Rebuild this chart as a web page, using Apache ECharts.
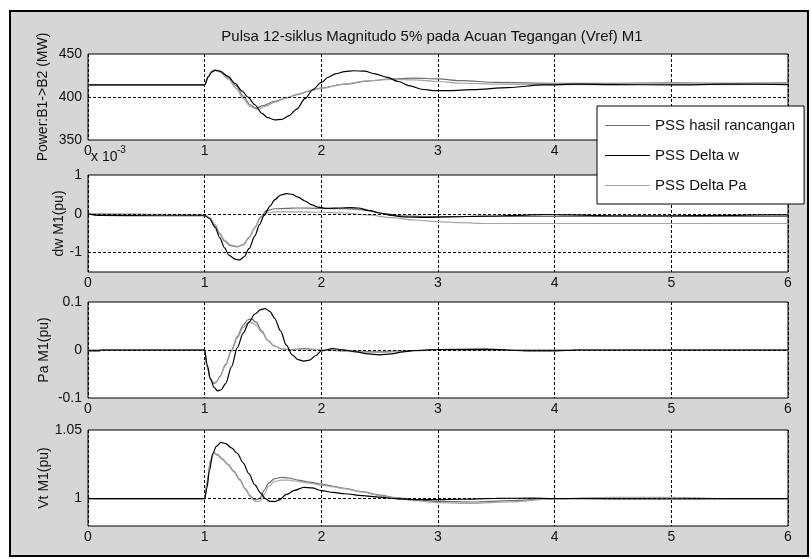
<!DOCTYPE html>
<html>
<head>
<meta charset="utf-8">
<script src="https://cdn.jsdelivr.net/npm/echarts@6/dist/echarts.min.js"></script>
<style>html,body{margin:0;padding:0;background:#fff}#c{width:812px;height:559px}</style>
</head>
<body>
<div id="c"></div>
<script>
// ---------- DATA ----------
const titleText = 'Pulsa 12-siklus Magnitudo 5% pada Acuan Tegangan (Vref) M1';
const seriesNames = ['PSS hasil rancangan', 'PSS Delta w', 'PSS Delta Pa'];
const xTicks = [0, 1, 2, 3, 4, 5, 6];
const yNames = ['Power:B1->B2 (MW)', 'dw M1(pu)', 'Pa M1(pu)', 'Vt M1(pu)'];

// Plot 1: Power B1->B2 (MW)
const powT_w = [0, 1.0, 1.03, 1.06, 1.09, 1.13, 1.2, 1.26, 1.32, 1.37, 1.43, 1.49, 1.54, 1.6, 1.66, 1.72, 1.79, 1.86, 1.93, 2.0, 2.06, 2.12, 2.2, 2.28, 2.37, 2.46, 2.56, 2.66, 2.76, 2.86, 2.96, 3.1, 3.3, 3.6, 3.9, 4.2, 4.5, 5.0, 5.5, 6.0];
const powV_w = [414, 414, 423, 429, 431, 430, 424, 416, 407, 400, 391, 381, 376, 373.5, 374, 378, 386, 398, 409, 417, 423, 427, 429.5, 430.5, 430, 427, 423, 418, 413, 409, 407.5, 407.5, 408.5, 411, 414, 415, 414.5, 414, 415, 414.5];
const powT_h = [0, 1.0, 1.03, 1.06, 1.09, 1.13, 1.2, 1.27, 1.33, 1.39, 1.44, 1.5, 1.6, 1.7, 1.8, 1.9, 2.0, 2.2, 2.4, 2.6, 2.8, 3.0, 3.2, 3.5, 4.0, 4.5, 5.0, 5.5, 6.0];
const powV_h = [414, 414, 424, 430, 431.5, 430, 423, 413, 401, 391, 387, 390, 395, 399, 403, 407, 410.5, 415, 418.5, 421, 422, 421, 419, 417, 416, 416, 416.5, 416, 416.5];
const powT_p = [0, 1.0, 1.03, 1.06, 1.09, 1.13, 1.2, 1.27, 1.33, 1.39, 1.45, 1.52, 1.6, 1.7, 1.8, 1.9, 2.0, 2.2, 2.4, 2.6, 2.8, 3.0, 3.2, 3.5, 4.0, 4.5, 5.0, 5.5, 6.0];
const powV_p = [414, 414, 424, 430, 431, 429, 421, 410, 398, 389, 385.5, 389, 394, 399, 403.5, 407.5, 410, 415, 419, 420.5, 420, 418, 416, 415, 414.5, 414.5, 415, 414.5, 415];

// Plot 2: dw M1 (pu, x 10^-3)
const dwT_w = [0, 0.1, 0.6, 1.0, 1.04, 1.09, 1.13, 1.17, 1.21, 1.26, 1.3, 1.34, 1.38, 1.43, 1.47, 1.51, 1.56, 1.6, 1.65, 1.7, 1.75, 1.8, 1.86, 1.92, 1.97, 2.05, 2.15, 2.25, 2.32, 2.4, 2.5, 2.6, 2.7, 2.9, 3.1, 3.4, 3.7, 3.9, 4.1, 4.5, 5.0, 5.5, 5.8, 6.0];
const dwV_w = [0, -0.04, -0.05, -0.05, -0.12, -0.35, -0.62, -0.88, -1.07, -1.17, -1.19, -1.1, -0.9, -0.57, -0.28, -0.04, 0.2, 0.36, 0.48, 0.52, 0.5, 0.43, 0.33, 0.23, 0.17, 0.14, 0.15, 0.16, 0.15, 0.09, 0.02, -0.04, -0.08, -0.09, -0.08, -0.06, -0.04, -0.02, -0.03, -0.05, -0.05, -0.04, -0.03, -0.03];
const dwT_h = [0, 1.0, 1.04, 1.09, 1.13, 1.17, 1.22, 1.28, 1.33, 1.38, 1.43, 1.48, 1.53, 1.6, 1.7, 1.8, 2.0, 2.2, 2.3, 2.4, 2.55, 2.7, 2.9, 3.1, 3.5, 4.0, 5.0, 6.0];
const dwV_h = [0, -0.03, -0.1, -0.3, -0.52, -0.7, -0.82, -0.85, -0.8, -0.62, -0.36, -0.08, 0.08, 0.13, 0.14, 0.15, 0.14, 0.13, 0.12, 0.08, 0.0, -0.05, -0.07, -0.07, -0.07, -0.07, -0.07, -0.07];
const dwT_p = [0, 1.0, 1.04, 1.09, 1.13, 1.17, 1.22, 1.28, 1.33, 1.38, 1.43, 1.48, 1.53, 1.6, 1.7, 1.8, 2.0, 2.2, 2.4, 2.6, 2.8, 3.0, 3.2, 3.4, 4.0, 5.0, 6.0];
const dwV_p = [0, -0.02, -0.09, -0.28, -0.5, -0.68, -0.8, -0.84, -0.79, -0.6, -0.36, -0.1, 0.03, 0.05, 0.05, 0.05, 0.04, 0.02, -0.03, -0.1, -0.16, -0.2, -0.23, -0.25, -0.25, -0.25, -0.25];

// Plot 3: Pa M1 (pu)
const paT_w = [0, 0.1, 0.11, 1.0, 1.02, 1.05, 1.08, 1.11, 1.14, 1.18, 1.23, 1.28, 1.33, 1.38, 1.43, 1.48, 1.52, 1.56, 1.6, 1.65, 1.7, 1.75, 1.8, 1.85, 1.9, 1.95, 2.0, 2.1, 2.2, 2.3, 2.4, 2.5, 2.6, 2.7, 2.8, 3.0, 3.4, 3.8, 4.0, 4.1, 4.2, 6.0];
const paV_w = [-0.002, -0.002, 0, 0, -0.03, -0.06, -0.078, -0.085, -0.083, -0.07, -0.035, 0.005, 0.035, 0.058, 0.075, 0.084, 0.086, 0.08, 0.066, 0.04, 0.01, -0.01, -0.02, -0.023, -0.021, -0.012, -0.002, 0.003, 0.0, -0.004, -0.008, -0.01, -0.008, -0.004, -0.001, 0.001, 0.002, -0.002, -0.002, -0.001, 0, 0];
const paT_h = [0, 1.0, 1.02, 1.05, 1.08, 1.1, 1.13, 1.18, 1.23, 1.28, 1.33, 1.37, 1.4, 1.44, 1.49, 1.54, 1.6, 1.66, 1.75, 1.85, 1.95, 2.05, 2.2, 2.5, 2.8, 3.0, 3.3, 3.6, 4.0, 6.0];
const paV_h = [0, 0, -0.035, -0.062, -0.07, -0.067, -0.055, -0.03, 0.0, 0.028, 0.052, 0.063, 0.065, 0.058, 0.04, 0.02, 0.008, 0.002, 0.001, 0.003, 0.001, 0.0, -0.002, -0.004, -0.001, 0.001, 0.0, 0.0, 0, 0];
const paT_p = [0, 1.0, 1.02, 1.05, 1.08, 1.1, 1.13, 1.18, 1.23, 1.28, 1.33, 1.37, 1.4, 1.44, 1.49, 1.54, 1.6, 1.66, 1.75, 1.85, 1.95, 2.05, 2.2, 2.5, 2.8, 3.0, 3.3, 3.6, 4.0, 6.0];
const paV_p = [0, 0, -0.033, -0.06, -0.068, -0.066, -0.056, -0.032, -0.003, 0.025, 0.047, 0.056, 0.057, 0.052, 0.037, 0.02, 0.008, 0.002, 0.0, 0.002, 0.001, 0.0, -0.003, -0.005, -0.002, 0.0, 0.0, 0.0, 0, 0];

// Plot 4: Vt M1 (pu)
const vtT_w = [0, 1.0, 1.02, 1.04, 1.07, 1.1, 1.14, 1.18, 1.23, 1.28, 1.33, 1.38, 1.43, 1.48, 1.52, 1.56, 1.6, 1.64, 1.7, 1.77, 1.85, 1.92, 2.0, 2.1, 2.2, 2.35, 2.5, 2.65, 2.8, 3.0, 3.2, 3.5, 3.8, 4.0, 4.5, 5.0, 5.5, 6.0];
const vtV_w = [1.0, 1.0, 1.008, 1.02, 1.033, 1.038, 1.041, 1.040, 1.037, 1.033, 1.026, 1.018, 1.01, 1.004, 1.0, 0.998, 0.9978, 0.999, 1.003, 1.006, 1.0082, 1.0078, 1.0058, 1.0045, 1.0035, 1.0022, 1.001, 0.9998, 0.9993, 0.9992, 0.9995, 1.0002, 1.0003, 1.0, 0.9998, 0.9997, 1.0, 1.0];
const vtT_h = [0, 1.0, 1.02, 1.05, 1.08, 1.11, 1.15, 1.2, 1.25, 1.3, 1.35, 1.39, 1.43, 1.47, 1.51, 1.55, 1.6, 1.66, 1.72, 1.8, 1.9, 2.0, 2.1, 2.2, 2.35, 2.5, 2.65, 2.8, 3.0, 3.3, 3.6, 4.0, 4.5, 5.0, 5.5, 6.0];
const vtV_h = [1.0, 1.0, 1.012, 1.028, 1.0335, 1.032, 1.029, 1.025, 1.02, 1.014, 1.007, 1.002, 0.999, 1.0, 1.006, 1.0115, 1.0145, 1.0155, 1.015, 1.0135, 1.012, 1.0105, 1.009, 1.0075, 1.005, 1.0025, 1.0005, 0.999, 0.998, 0.9975, 0.9985, 1.0, 1.0005, 1.0005, 1.0, 1.0];
const vtT_p = [0, 1.0, 1.02, 1.05, 1.08, 1.11, 1.15, 1.2, 1.25, 1.3, 1.35, 1.39, 1.43, 1.47, 1.51, 1.55, 1.6, 1.66, 1.72, 1.8, 1.9, 2.0, 2.1, 2.2, 2.35, 2.5, 2.65, 2.8, 3.0, 3.3, 3.6, 4.0, 4.5, 5.0, 5.5, 6.0];
const vtV_p = [1.0, 1.0, 1.011, 1.027, 1.033, 1.0315, 1.0285, 1.0245, 1.0195, 1.0135, 1.0065, 1.0015, 0.998, 0.998, 1.003, 1.009, 1.0125, 1.0135, 1.0135, 1.0125, 1.0112, 1.0098, 1.0085, 1.0072, 1.0048, 1.0022, 1.0, 0.9985, 0.997, 0.9965, 0.9975, 1.0, 1.0008, 1.0008, 1.0, 1.0];

// y-axis ranges / gridline values
const yMin = [350, -1.5, -0.1, 0.98];
const yMax = [450, 1, 0.1, 1.05];
const yInterval = [50, 0.5, 0.1, 0.01];
const yLabelValues = [[350, 400, 450], [-1, 0, 1], [-0.1, 0, 0.1], [1, 1.05]];
const yGridValues = [[400], [-1, 0], [0], [1]];

// ---------- CHART ----------
const FONT = 'Liberation Sans, Arial, Helvetica, sans-serif';
const FS = 14;
const FS_BIG = 15;
const colors = { h: '#6e6e6e', w: '#000000', p: '#a6a6a6' };

const gridTops = [54, 175, 302, 430];
const gridHeights = [86, 97, 96, 96];
const nameGaps = [38, 22, 37, 37];

const grids = gridTops.map((t, i) => ({
  left: 88, width: 700, top: t, height: gridHeights[i],
  show: true, backgroundColor: '#fff', borderColor: '#000', borderWidth: 1
}));

const xAxes = gridTops.map((t, i) => ({
  type: 'value', gridIndex: i, min: 0, max: 6, interval: 1,
  axisLine: { show: false }, axisTick: { show: false },
  axisLabel: { color: '#111', fontFamily: FONT, fontSize: FS, margin: 4, showMinLabel: true, showMaxLabel: true },
  splitLine: { show: true, lineStyle: { color: '#000', type: [3, 2], width: 1 } }
}));

function fmtFor(i) {
  return function (v) {
    for (const lv of yLabelValues[i]) {
      if (Math.abs(v - lv) < 1e-9) return String(lv);
    }
    return '';
  };
}

const yAxes = gridTops.map((t, i) => ({
  type: 'value', gridIndex: i, min: yMin[i], max: yMax[i], interval: yInterval[i],
  name: yNames[i], nameLocation: 'middle', nameGap: nameGaps[i], nameMoveOverlap: false,
  nameTextStyle: { color: '#111', fontFamily: FONT, fontSize: FS },
  axisLine: { show: false }, axisTick: { show: false },
  axisLabel: { color: '#111', fontFamily: FONT, fontSize: FS, margin: 6, formatter: fmtFor(i), showMinLabel: true, showMaxLabel: true },
  splitLine: { show: false }
}));

function zip(ts, vs) { return ts.map((t, k) => [t, vs[k]]); }

const plotData = [
  { h: zip(powT_h, powV_h), w: zip(powT_w, powV_w), p: zip(powT_p, powV_p) },
  { h: zip(dwT_h, dwV_h), w: zip(dwT_w, dwV_w), p: zip(dwT_p, dwV_p) },
  { h: zip(paT_h, paV_h), w: zip(paT_w, paV_w), p: zip(paT_p, paV_p) },
  { h: zip(vtT_h, vtV_h), w: zip(vtT_w, vtV_w), p: zip(vtT_p, vtV_p) }
];

const series = [];
plotData.forEach((pd, i) => {
  [['h', 0], ['p', 2], ['w', 1]].forEach(([key, ni], j) => {
    const s = {
      type: 'line', name: seriesNames[ni], xAxisIndex: i, yAxisIndex: i,
      data: pd[key], symbol: 'none', smooth: 0.3, smoothMonotone: 'x',
      lineStyle: { color: colors[key], width: 1.2 }, itemStyle: { color: colors[key] },
      emphasis: { disabled: true }, silent: true, z: 3
    };
    if (j === 0) {
      s.markLine = {
        silent: true, symbol: 'none', label: { show: false }, animation: false,
        lineStyle: { color: '#000', type: [3, 2], width: 1 },
        data: yGridValues[i].map(v => ({ yAxis: v }))
      };
    }
    series.push(s);
  });
});

const chart = echarts.init(document.getElementById('c'), null, { renderer: 'canvas' });
chart.setOption({
  animation: false,
  backgroundColor: '#fff',
  grid: grids,
  xAxis: xAxes,
  yAxis: yAxes,
  legend: {
    data: seriesNames, orient: 'vertical', left: 597, top: 106,
    backgroundColor: '#fff', borderColor: '#000', borderWidth: 1,
    padding: [12, 9, 11, 8], itemGap: 15, itemWidth: 45, itemHeight: 1.2,
    icon: 'rect',
    textStyle: { color: '#111', fontFamily: FONT, fontSize: FS_BIG },
    selectedMode: false, z: 10
  },
  graphic: [
    { type: 'rect', z: -100, silent: true, shape: { x: 10, y: 11, width: 798, height: 545 },
      style: { fill: '#d6d6d6', stroke: '#000', lineWidth: 2 } },
    { type: 'text', z: 5, x: 432, y: 37, silent: true,
      style: { text: titleText, fill: '#111', font: FS_BIG + 'px ' + FONT, textAlign: 'center', textVerticalAlign: 'middle' } },
    { type: 'text', z: 5, x: 91, y: 157, silent: true,
      style: { text: 'x 10', fill: '#111', font: FS + 'px ' + FONT, textAlign: 'left', textVerticalAlign: 'middle' } },
    { type: 'text', z: 5, x: 117, y: 150, silent: true,
      style: { text: '-3', fill: '#111', font: '10px ' + FONT, textAlign: 'left', textVerticalAlign: 'middle' } }
  ],
  series: series
});
</script>
</body>
</html>
